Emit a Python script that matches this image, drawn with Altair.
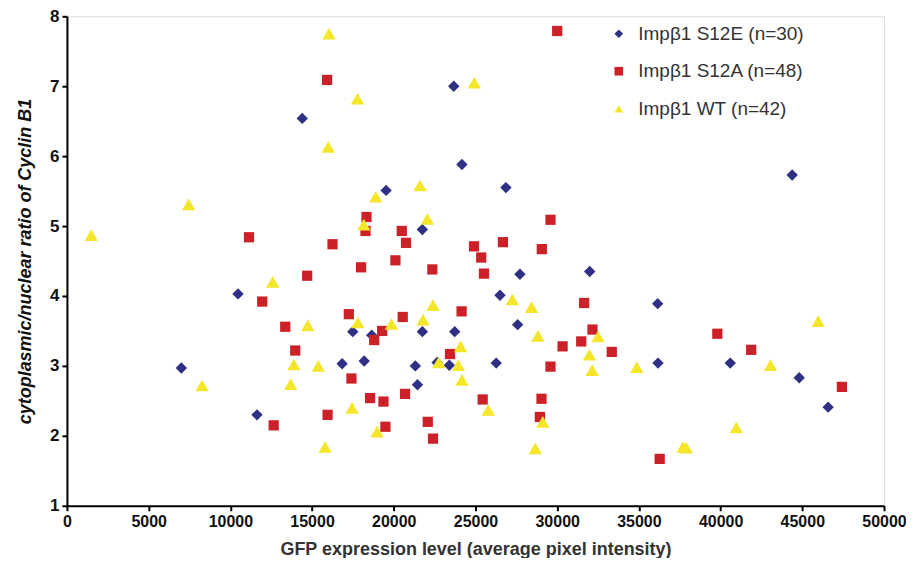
import altair as alt
import pandas as pd

# Impβ1 S12E (diamonds)
s12e_x = [7000, 10470, 11630, 14400, 16840, 17490, 18190, 18650, 19530, 21320,
          21450, 21750, 21750, 22650, 23400, 23670, 23730, 24170, 26270, 26500,
          26860, 27580, 27720, 31990, 36150, 36170, 40590, 44380, 44810, 46580]
s12e_y = [2.97, 4.03, 2.30, 6.54, 3.03, 3.49, 3.07, 3.44, 5.51, 3.00,
          2.73, 3.49, 4.95, 3.05, 3.01, 7.00, 3.49, 5.88, 3.04, 4.01,
          5.55, 3.59, 4.31, 4.35, 3.89, 3.04, 3.04, 5.73, 2.83, 2.41]

# Impβ1 S12A (squares)
s12a_x = [11140, 14700, 11950, 13360, 13970, 12650, 30000, 15920, 18330, 18270,
          20490, 20750, 16250, 24910, 25350, 26680, 29590, 29060, 20100, 18000,
          22360, 25520, 17250, 20550, 19290, 18800, 24150, 23440, 17410, 18550,
          19370, 20690, 15950, 19490, 22080, 22400, 25440, 29040, 28940, 29590,
          30330, 31470, 31650, 32160, 33340, 39800, 41870, 47420, 36270]
s12a_y = [4.84, 4.29, 3.92, 3.56, 3.22, 2.15, 7.79, 7.09, 5.13, 4.93,
          4.93, 4.76, 4.74, 4.71, 4.55, 4.77, 5.09, 4.67, 4.51, 4.41,
          4.38, 4.32, 3.74, 3.70, 3.50, 3.37, 3.78, 3.17, 2.82, 2.54,
          2.49, 2.60, 2.30, 2.13, 2.20, 1.96, 2.52, 2.53, 2.27, 2.99,
          3.28, 3.35, 3.90, 3.52, 3.20, 3.46, 3.23, 2.70, 1.67]

# Impβ1 WT (triangles)
wt_x = [1490, 7450, 8270, 12590, 14740, 13890, 13690, 15380, 16030, 17780,
        24930, 15990, 21610, 18900, 22060, 18170, 15800, 17450, 17800, 18980,
        19860, 21790, 22400, 22750, 23950, 24090, 24170, 25780, 27250, 28430,
        28820, 29120, 28660, 31970, 32140, 32500, 34870, 37700, 37900, 40960,
        43050, 45970]
wt_y = [4.87, 5.31, 2.72, 4.20, 3.58, 3.02, 2.74, 3.00, 7.75, 6.82,
        7.05, 6.13, 5.58, 5.42, 5.10, 5.02, 1.84, 2.40, 3.62, 2.06,
        3.60, 3.66, 3.87, 3.05, 3.01, 3.28, 2.80, 2.37, 3.95, 3.84,
        3.43, 2.20, 1.82, 3.16, 2.94, 3.42, 2.98, 1.84, 1.83, 2.12,
        3.01, 3.64]

groups = ["Impβ1 S12E (n=30)", "Impβ1 S12A (n=48)", "Impβ1 WT (n=42)"]

rows = []
for xs, ys, g in [(s12e_x, s12e_y, groups[0]), (s12a_x, s12a_y, groups[1]), (wt_x, wt_y, groups[2])]:
    for a, b in zip(xs, ys):
        rows.append({"gfp": a, "ratio": b, "group": g})
df = pd.DataFrame(rows)

FONT = "Liberation Sans"

x_enc = alt.X("gfp:Q",
              scale=alt.Scale(domain=[0, 50000], nice=False, zero=False),
              axis=alt.Axis(values=list(range(0, 50001, 5000)), format="d", grid=False,
                            labelFlush=False, labelOverlap=False,
                            title="GFP expression level (average pixel intensity)",
                            titleFontSize=18, titleFontWeight="bold", titleColor="#333333",
                            titlePadding=11, labelFontSize=16, labelFontWeight="bold",
                            labelColor="#111111", labelPadding=3,
                            domainColor="black", domainWidth=2, tickColor="black",
                            tickWidth=2, tickSize=5, labelFont=FONT, titleFont=FONT))
y_enc = alt.Y("ratio:Q",
              scale=alt.Scale(domain=[1, 8], nice=False, zero=False),
              axis=alt.Axis(values=list(range(1, 9)), grid=False,
                            labelFlush=False, labelOverlap=False,
                            title="cytoplasmic/nuclear ratio of Cyclin B1",
                            titleFontSize=18, titleFontWeight="bold", titleFontStyle="italic",
                            titleColor="#111111", titlePadding=15,
                            labelFontSize=17, labelFontWeight="bold", labelColor="#111111",
                            labelPadding=3, domainColor="black", domainWidth=2,
                            tickColor="black", tickWidth=2, tickSize=5,
                            labelFont=FONT, titleFont=FONT))
color_enc = alt.Color("group:N",
                      scale=alt.Scale(domain=groups, range=["#2E3084", "#CC2128", "#F3E62B"]),
                      legend=alt.Legend(title=None, orient="none", legendX=543, legendY=8,
                                        labelFontSize=19, labelColor="#333333", labelFont=FONT,
                                        labelLimit=400,
                                        symbolSize=75, rowPadding=17.5, labelOffset=10))
shape_enc = alt.Shape("group:N",
                      scale=alt.Scale(domain=groups, range=["diamond", "square", "triangle-up"]))

base = alt.Chart(df).encode(x=x_enc, y=y_enc, color=color_enc, shape=shape_enc)

sizes = [130, 105, 180]
layers = [
    base.transform_filter(alt.datum.group == g).mark_point(filled=True, opacity=1, size=s)
    for g, s in zip(groups, sizes)
]

chart = alt.layer(*layers).properties(
    width=818, height=490,
    autosize=alt.AutoSizeParams(type="none"),
    padding={"left": 59, "top": 8, "right": 22, "bottom": 52},
).configure_view(stroke=None).configure(background="white")

chart.save("out.html", embed_options={"renderer": "svg", "actions": False})
